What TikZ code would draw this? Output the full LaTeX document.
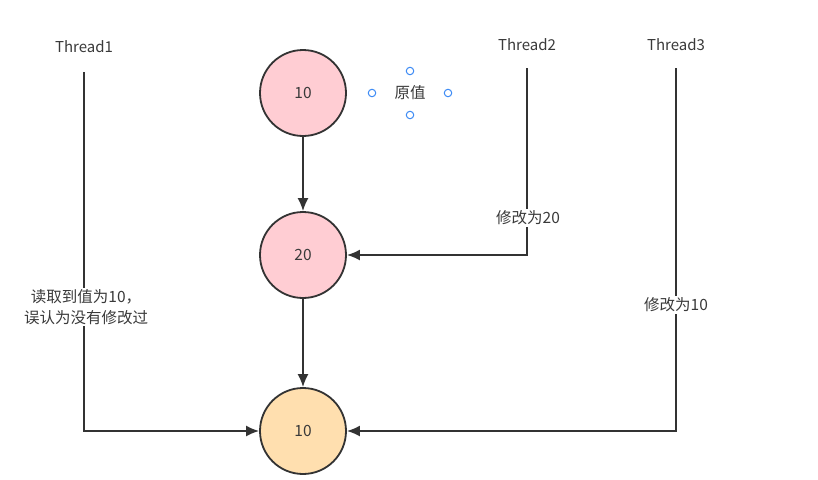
\documentclass[tikz,border=0pt]{standalone}
\usepackage{fontspec}
\setmainfont{Noto Sans CJK SC}
\usepackage{tikz}
\usetikzlibrary{shapes,arrows,arrows.meta,positioning,calc}
\definecolor{pinkfill}{HTML}{FFCDD3}
\definecolor{orangefill}{HTML}{FFDFAF}
\definecolor{linegray}{HTML}{333333}
\definecolor{textgray}{HTML}{3A3A3A}
\definecolor{handleblue}{HTML}{3D8BF5}
\tikzset{
valnode/.style = {draw=linegray, line width=1.8pt, circle, minimum size=86pt, inner sep=0pt, text=textgray, font=\fontsize{15.5}{18}\selectfont},
thread/.style = {text=textgray, font=\fontsize{15}{18}\selectfont, inner sep=1pt},
lbl/.style = {fill=white, text=textgray, font=\fontsize{15.5}{21}\selectfont, align=center, inner sep=1.5pt},
handle/.style = {draw=handleblue, line width=1pt, fill=white, circle, minimum size=7.5pt, inner sep=0pt},
}
\begin{document}
\begin{tikzpicture}[x=1pt, y=-1pt, >={Latex[length=13pt,width=11pt]}, line width=1.8pt]
    \useasboundingbox[fill=white] (0,0) rectangle (818,479);
    % values
    \node [valnode, fill=pinkfill] (v1) at (303,93) {10};
    \node [valnode, fill=pinkfill] (v2) at (303,255) {20};
    \node [valnode, fill=orangefill] (v3) at (303,431) {10};
    \node [lbl] (orig) at (410,93) {原值};
    \node [handle] (hl) at (372,93) {};
    \node [handle] (hr) at (448,93) {};
    \node [handle] (ht) at (410,71) {};
    \node [handle] (hb) at (410,115) {};
    % threads
    \node [thread] (t1) at (84,47) {Thread1};
    \node [thread] (t2) at (527,45) {Thread2};
    \node [thread] (t3) at (676,45) {Thread3};
    \coordinate (s1) at (84,72);
    \coordinate (s2) at (527,68);
    \coordinate (s3) at (676,68);
    \draw [->, linegray] (v1) -- (v2);
    \draw [->, linegray] (v2) -- (v3);
    \draw [->, linegray] (s1) -- (s1 |- v3) -- (v3);
    \draw [->, linegray] (s2) -- (s2 |- v2) -- (v2);
    \draw [->, linegray] (s3) -- (s3 |- v3) -- (v3);
    \node [lbl] (r1) at (86,307) {读取到值为10，\\误认为没有修改过};
    \node [lbl] (m2) at (528,218) {修改为20};
    \node [lbl] (m3) at (676,305) {修改为10};
\end{tikzpicture}
\end{document}
